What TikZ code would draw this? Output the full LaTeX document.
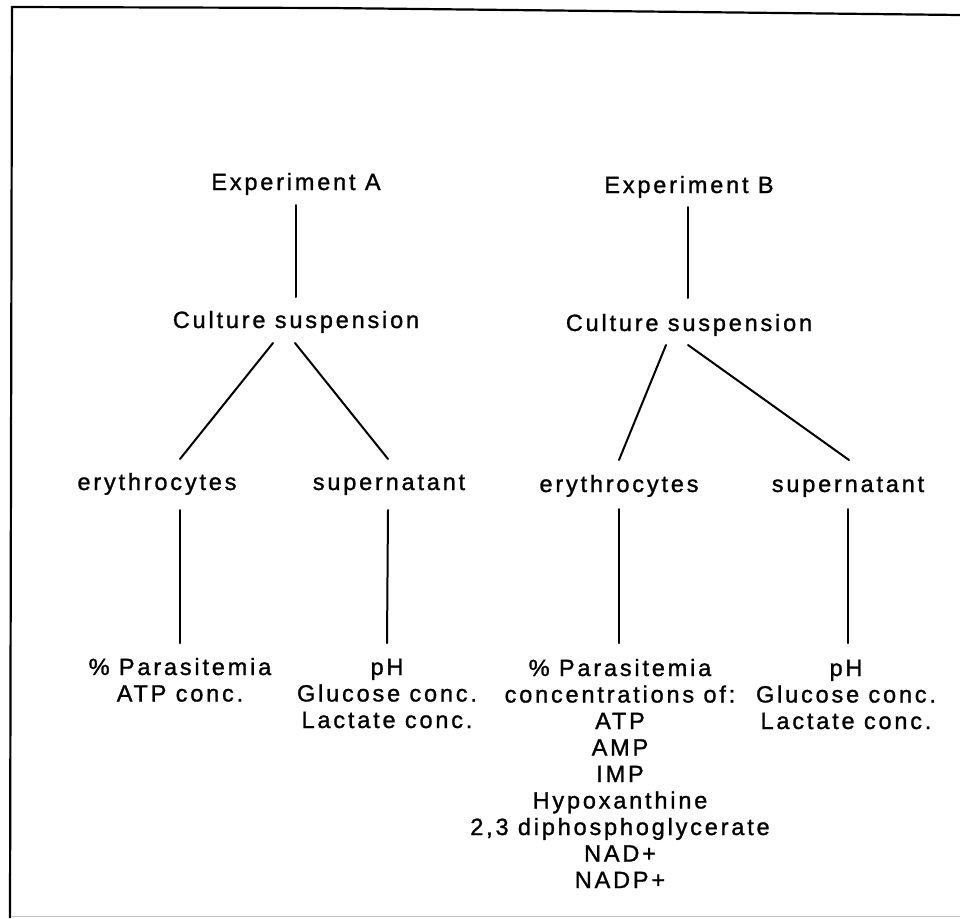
\documentclass[tikz,border=0pt]{standalone}
\usepackage{fontspec}
\setmainfont[LetterSpace=12,FakeBold=1.2]{Liberation Sans}
\usetikzlibrary{calc}
\newcommand{\stack}[1]{\begin{tabular}[t]{@{}c@{}}#1\end{tabular}}
\begin{document}
\begin{tikzpicture}[x=1pt,y=-1pt,
  lbl/.style={inner sep=0pt, anchor=base, font=\fontsize{23.5}{26.5}\selectfont},
  conn/.style={line width=2pt, line cap=round},
  frame/.style={line width=2.2pt}]
\useasboundingbox (0,0) rectangle (960,918);
% frame
\coordinate (ftl) at (12,7);
\coordinate (ftm) at (330,8);
\coordinate (ftr) at (960,15);
\coordinate (fbl) at (10,918);
\coordinate (fbr) at (960,916);
\draw[frame] (ftr) -- (ftm) -- (ftl) -- (fbl);
\draw[line width=1pt, black!25] ($(fbl)+(2,-2)$) -- (fbr);
% Experiment A
\node[lbl] (expA) at (296,190) {Experiment A};
\node[lbl] (culA) at (296,328) {Culture suspension};
\node[lbl] (eryA) at (157,490) {erythrocytes};
\node[lbl] (supA) at (389,490) {supernatant};
\node[lbl] (resEA) at (180,675) {\stack{\% Parasitemia\\ATP conc.}};
\node[lbl] (resSA) at (387,675) {\stack{pH\\Glucose conc.\\Lactate conc.}};
% Experiment B
\node[lbl] (expB) at (689,193) {Experiment B};
\node[lbl] (culB) at (689,331) {Culture suspension};
\node[lbl] (eryB) at (619,492) {erythrocytes};
\node[lbl] (supB) at (848,492) {supernatant};
\node[lbl] (resEB) at (620,676) {\stack{\% Parasitemia\\concentrations of:\\ATP\\AMP\\IMP\\Hypoxanthine\\2,3 diphosphoglycerate\\NAD+\\NADP+}};
\node[lbl] (resSB) at (846,676) {\stack{pH\\Glucose conc.\\Lactate conc.}};
% connectors A
\draw[conn] ($(expA.base)+(0,15)$) -- ($(culA.base)+(0,-31)$);
\draw[conn] ($(culA.base)+(-23,15)$) -- ($(eryA.base)+(23,-31)$);
\draw[conn] ($(culA.base)+(-1,15)$) -- ($(supA.base)+(-1,-31)$);
\draw[conn] ($(eryA.base)+(23,20)$) -- ($(resEA.base)+(0,-32)$);
\draw[conn] ($(supA.base)+(-1,20)$) -- ($(resSA.base)+(0,-32)$);
% connectors B
\draw[conn] ($(expB.base)+(-1,14)$) -- ($(culB.base)+(-1,-33)$);
\draw[conn] ($(culB.base)+(-23,14)$) -- ($(eryB.base)+(0,-32)$);
\draw[conn] ($(culB.base)+(-1,14)$) -- ($(supB.base)+(1,-32)$);
\draw[conn] ($(eryB.base)+(0,17)$) -- ($(resEB.base)+(-1,-33)$);
\draw[conn] ($(supB.base)+(0,17)$) -- ($(resSB.base)+(2,-33)$);
\end{tikzpicture}
\end{document}
